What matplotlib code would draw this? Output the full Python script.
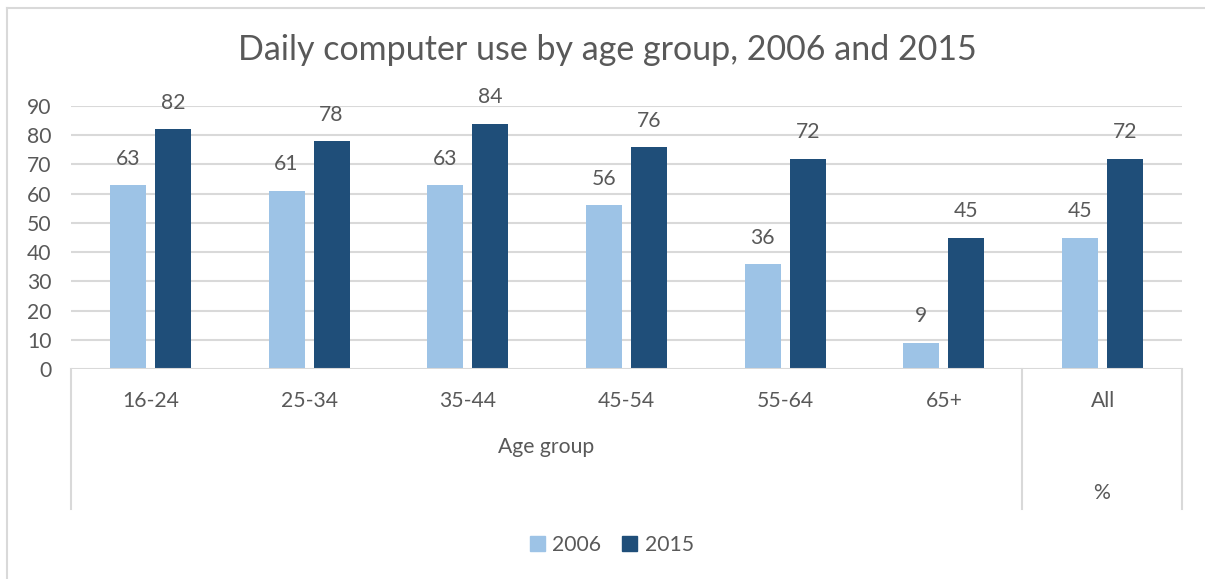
import matplotlib
matplotlib.use("Agg")
import matplotlib.pyplot as plt
from matplotlib.lines import Line2D
from matplotlib.patches import Patch
import numpy as np

categories = ["16-24", "25-34", "35-44", "45-54", "55-64", "65+", "All"]
values_2006 = [63, 61, 63, 56, 36, 9, 45]
values_2015 = [82, 78, 84, 76, 72, 45, 72]
series_names = ["2006", "2015"]
group_labels = ["Age group", "%"]
title = "Daily computer use by age group, 2006 and 2015"
yticks = list(range(0, 100, 10))

plt.rcParams['font.family'] = ['Lato', 'DejaVu Sans']
W, H = 1205, 579
fig = plt.figure(figsize=(W / 100, H / 100), dpi=100)
TXT = "#595959"
GRID = "#d9d9d9"
C1 = "#9dc3e6"
C2 = "#1f4e79"
FS = 15.2

def fx(px):
    return px / W

def fy(py):
    return 1 - py / H

ax = fig.add_axes([fx(71), fy(369), fx(1182) - fx(71), fy(106) - fy(369)])
n = len(categories)
x = np.arange(n)
bw = 0.227
off = 0.142
ax.bar(x - off, values_2006, bw, color=C1, zorder=3)
ax.bar(x + off, values_2015, bw, color=C2, zorder=3)
for xi, v in zip(x - off, values_2006):
    ax.text(xi, v + 9.0, str(v), ha='center', va='center', fontsize=FS, color=TXT)
for xi, v in zip(x + off, values_2015):
    ax.text(xi, v + 9.0, str(v), ha='center', va='center', fontsize=FS, color=TXT)

ax.set_xlim(-0.5, n - 0.5)
ax.set_ylim(0, 90)
ax.set_yticks(yticks)
ax.set_yticklabels([str(t) for t in yticks], fontsize=FS, color=TXT)
ax.tick_params(axis='y', length=0, pad=14)
ax.set_xticks([])
for s in ax.spines.values():
    s.set_visible(False)
for t in yticks[1:]:
    ax.axhline(t, color=GRID, lw=1.5, zorder=1)
ax.axhline(0, color=GRID, lw=1.5, zorder=4)

# category labels
for xi, c in zip(x, categories):
    fig.text(fx(71 + (xi + 0.5) * (1111 / n)), fy(401), c, ha='center', va='center',
             fontsize=FS, color=TXT)
# group labels
fig.text(fx((71 + 1022) / 2), fy(447), group_labels[0], ha='center', va='center',
         fontsize=FS, color=TXT)
fig.text(fx((1022 + 1182) / 2), fy(493), group_labels[1], ha='center', va='center',
         fontsize=FS, color=TXT)
# separators
for px in (71, 1022, 1182):
    fig.add_artist(Line2D([fx(px), fx(px)], [fy(369), fy(509)], color=GRID, lw=1.5))

# figure border (left and top)
fig.add_artist(Line2D([fx(7.5), fx(7.5)], [fy(7.5), 0], color=GRID, lw=1.5))
fig.add_artist(Line2D([fx(7.5), 1], [fy(7.5), fy(7.5)], color=GRID, lw=1.5))

fig.text(fx(607), fy(50), title, ha='center', va='center', fontsize=24.5, color=TXT)

handles = [Patch(color=C1, label=series_names[0]), Patch(color=C2, label=series_names[1])]
leg = fig.legend(handles=handles, loc='center', bbox_to_anchor=(fx(612), fy(545)), ncol=2,
                 frameon=False, fontsize=FS, handlelength=0.7, handleheight=0.7,
                 handletextpad=0.35, columnspacing=1.0)
for t in leg.get_texts():
    t.set_color(TXT)

fig.savefig("out.png", dpi=100)
